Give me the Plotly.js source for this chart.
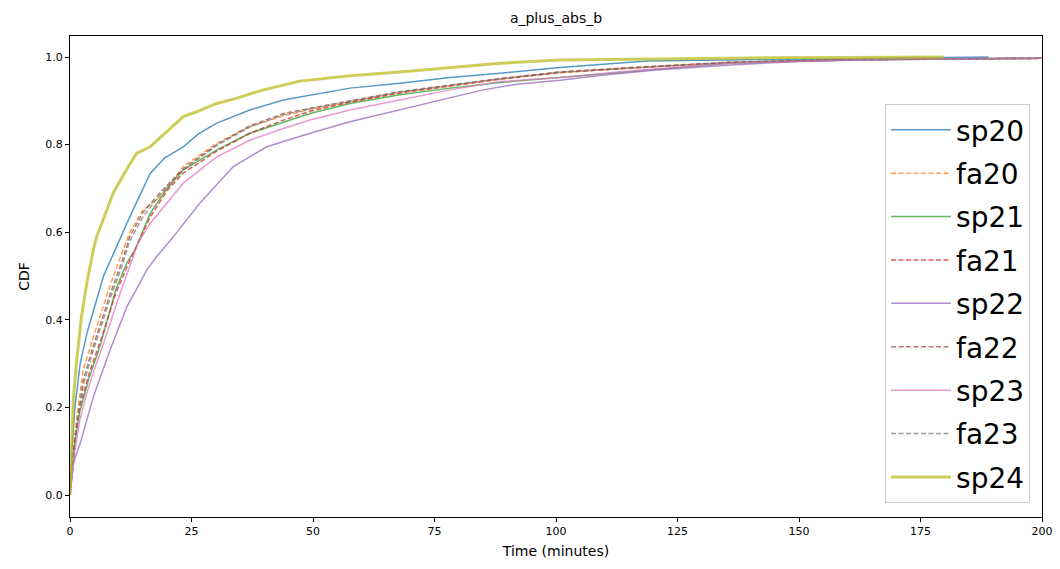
<!DOCTYPE html>
<html>
<head>
<meta charset="utf-8">
<script src="https://cdn.plot.ly/plotly-3.0.1.min.js"></script>
<style>html,body{margin:0;padding:0;background:#fff;}#chart{width:1060px;height:569px;}</style>
</head>
<body>
<div id="chart"></div>
<script>
// Series names
const seriesNames = ["sp20", "fa20", "sp21", "fa21", "sp22", "fa22", "sp23", "fa23", "sp24"];

// Values (time in minutes, CDF)
const sp20_x = [0, 0.5, 1, 2.1, 3.5, 4.8, 6.9, 8.9, 12.3, 16.5, 19.5, 23.3, 26.5, 30.2, 37, 43.9, 49.4, 57.6, 67.9, 78.2, 88.5, 100.8, 118.7, 140, 160, 189];
const sp20_y = [0, 0.12, 0.2, 0.30, 0.37, 0.42, 0.50, 0.55, 0.635, 0.734, 0.77, 0.795, 0.825, 0.849, 0.879, 0.902, 0.913, 0.929, 0.94, 0.953, 0.963, 0.976, 0.991, 0.994, 0.997, 1.0];

const fa20_x = [0, 0.5, 1.2, 2.7, 4.5, 6.2, 8.3, 10.6, 12.3, 15, 18.5, 23.3, 30.2, 37, 43.9, 49.4, 57.6, 67.9, 78.2, 88.5, 100.8, 115, 135.8, 160, 180, 200];
const fa20_y = [0, 0.08, 0.16, 0.285, 0.35, 0.41, 0.48, 0.55, 0.6, 0.65, 0.681, 0.75, 0.803, 0.841, 0.866, 0.88, 0.898, 0.919, 0.934, 0.949, 0.964, 0.975, 0.987, 0.993, 0.996, 0.997];

const sp21_x = [0, 0.5, 1, 2, 4, 6.2, 9.4, 11.7, 13.4, 16.5, 20, 23.3, 30.2, 37, 43.9, 49.4, 57.6, 67.9, 78.2, 88.5, 100.8, 115, 135.8, 160, 200];
const sp21_y = [0, 0.06, 0.12, 0.19, 0.27, 0.34, 0.468, 0.53, 0.56, 0.643, 0.7, 0.742, 0.788, 0.826, 0.852, 0.871, 0.894, 0.914, 0.929, 0.942, 0.953, 0.966, 0.986, 0.993, 0.997];

const fa21_x = [0, 0.5, 1, 2, 4, 6.2, 9.4, 11.7, 13.4, 16.5, 20, 23.3, 30.2, 37, 43.9, 49.4, 57.6, 67.9, 78.2, 88.5, 100.8, 115, 135.8, 160, 200];
const fa21_y = [0, 0.07, 0.13, 0.2, 0.28, 0.35, 0.46, 0.52, 0.56, 0.635, 0.695, 0.735, 0.785, 0.826, 0.856, 0.876, 0.897, 0.918, 0.934, 0.95, 0.965, 0.975, 0.988, 0.994, 0.997];

const sp22_x = [0, 0.3, 0.7, 2.1, 4.8, 8.2, 11.7, 13.7, 15.8, 17.8, 21.3, 26.7, 33.6, 40.5, 49.4, 57.6, 67.9, 78.2, 85, 91.9, 100.8, 109, 120, 135.8, 150, 170, 200];
const sp22_y = [0, 0.04, 0.073, 0.118, 0.224, 0.33, 0.43, 0.47, 0.514, 0.544, 0.59, 0.666, 0.75, 0.795, 0.826, 0.852, 0.879, 0.906, 0.925, 0.938, 0.947, 0.958, 0.97, 0.982, 0.99, 0.995, 0.998];

const fa22_x = [0, 0.5, 1.2, 2.7, 4.5, 6.2, 8.3, 10.6, 12.3, 15, 18.5, 23.3, 30.2, 37, 43.9, 49.4, 57.6, 67.9, 78.2, 88.5, 100.8, 115, 135.8, 160, 200];
const fa22_y = [0, 0.07, 0.14, 0.26, 0.33, 0.39, 0.46, 0.53, 0.59, 0.645, 0.69, 0.745, 0.8, 0.843, 0.871, 0.883, 0.9, 0.921, 0.936, 0.951, 0.966, 0.976, 0.988, 0.994, 0.997];

const sp23_x = [0, 0.5, 1, 2, 3.4, 4.8, 6.9, 10.3, 14, 16.5, 23.3, 30.2, 37, 43.9, 49.4, 57.6, 67.9, 78.2, 88.5, 100.8, 115, 135.8, 160, 200];
const sp23_y = [0, 0.05, 0.1, 0.17, 0.23, 0.28, 0.346, 0.46, 0.575, 0.62, 0.712, 0.772, 0.81, 0.837, 0.856, 0.879, 0.902, 0.925, 0.944, 0.953, 0.968, 0.986, 0.993, 0.997];

const fa23_x = [0, 0.5, 1.2, 2.7, 4.5, 6.2, 8.3, 10.6, 12.3, 15, 18.5, 23.3, 30.2, 37, 43.9, 49.4, 57.6, 67.9, 78.2, 88.5, 100.8, 115, 135.8, 160, 200];
const fa23_y = [0, 0.07, 0.14, 0.25, 0.32, 0.38, 0.45, 0.52, 0.58, 0.635, 0.685, 0.742, 0.798, 0.84, 0.868, 0.882, 0.899, 0.92, 0.935, 0.95, 0.965, 0.975, 0.988, 0.994, 0.997];

const sp24_x = [0, 0.3, 0.7, 1.4, 2.4, 3.4, 4.8, 5.5, 8.9, 12, 13.7, 16.5, 19.9, 23.3, 26, 30.2, 34, 39.8, 47.3, 57.6, 67.9, 78.2, 88.5, 100.8, 120, 140, 160, 179.7];
const sp24_y = [0, 0.12, 0.22, 0.31, 0.41, 0.48, 0.56, 0.59, 0.69, 0.75, 0.78, 0.795, 0.83, 0.864, 0.875, 0.894, 0.905, 0.925, 0.945, 0.957, 0.966, 0.976, 0.986, 0.993, 0.996, 0.998, 0.999, 1.0];

const xTicks = [0, 25, 50, 75, 100, 125, 150, 175, 200];
const yTicks = [0.0, 0.2, 0.4, 0.6, 0.8, 1.0];

const seriesX = [sp20_x, fa20_x, sp21_x, fa21_x, sp22_x, fa22_x, sp23_x, fa23_x, sp24_x];
const seriesY = [sp20_y, fa20_y, sp21_y, fa21_y, sp22_y, fa22_y, sp23_y, fa23_y, sp24_y];
const colors = ["#1f77b4", "#ff7f0e", "#2ca02c", "#d62728", "#9467bd", "#8c564b", "#e377c2", "#7f7f7f", "#bcbd22"];
const dashed = [false, true, false, true, false, true, false, true, false];

const traces = seriesNames.map((name, i) => ({
  type: "scatter",
  mode: "lines",
  name: name,
  legendgroup: name,
  x: seriesX[i],
  y: seriesY[i],
  opacity: 0.75,
  line: {
    color: colors[i],
    width: name === "sp24" ? 3 : 1.5,
    dash: dashed[i] ? "5px,2.5px" : "solid"
  }
}));

const axisFont = {family: "DejaVu Sans", size: 11, color: "#000"};

const layout = {
  width: 1060,
  height: 569,
  margin: {l: 70, r: 18, t: 36, b: 52},
  paper_bgcolor: "#fff",
  plot_bgcolor: "#fff",
  font: {family: "DejaVu Sans", color: "#000"},
  showlegend: true,
  title: {
    text: "a_plus_abs_b",
    font: {family: "DejaVu Sans", size: 14, color: "#000"},
    x: 0.5, xref: "paper", xanchor: "center",
    y: 1 - 18 / 569, yref: "container", yanchor: "middle"
  },
  xaxis: {
    range: [0, 200],
    tickvals: xTicks,
    ticktext: xTicks.map(String),
    ticks: "outside", ticklen: 4, tickwidth: 1, tickcolor: "#000",
    showgrid: false, zeroline: false,
    showline: true, linecolor: "#000", linewidth: 1, mirror: true,
    tickfont: axisFont,
    title: {text: "Time (minutes)", font: {family: "DejaVu Sans", size: 14, color: "#000"}, standoff: 8}
  },
  yaxis: {
    range: [-0.0502, 1.048],
    tickvals: yTicks,
    ticktext: yTicks.map(v => v.toFixed(1)),
    ticks: "outside", ticklen: 4, tickwidth: 1, tickcolor: "#000",
    showgrid: false, zeroline: false,
    showline: true, linecolor: "#000", linewidth: 1, mirror: true,
    tickfont: axisFont,
    title: {text: "CDF", font: {family: "DejaVu Sans", size: 14, color: "#000"}, standoff: 12}
  },
  legend: {
    x: 0.9877, xanchor: "right",
    y: 0.029, yanchor: "bottom",
    bgcolor: "rgba(255,255,255,0.8)",
    bordercolor: "#cccccc", borderwidth: 1,
    font: {family: "DejaVu Sans", size: 28, color: "#000"},
    traceorder: "grouped",
    tracegroupgap: 4,
    itemwidth: 60
  }
};

Plotly.newPlot("chart", traces, layout, {staticPlot: true, displayModeBar: false});
</script>
</body>
</html>
